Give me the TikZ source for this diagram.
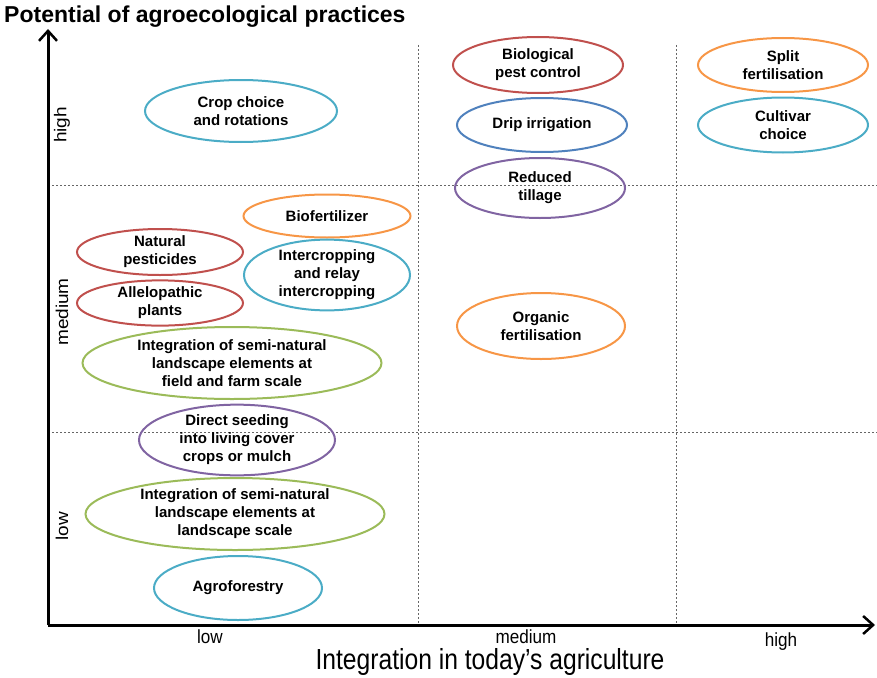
\documentclass[tikz,border=0pt]{standalone}
\usepackage{fontspec}
\setmainfont{Liberation Sans}
\usetikzlibrary{shapes.geometric,arrows.meta}

\definecolor{cRed}{RGB}{192,80,77}
\definecolor{cCyan}{RGB}{75,172,198}
\definecolor{cOrange}{RGB}{247,150,70}
\definecolor{cGreen}{RGB}{155,187,89}
\definecolor{cPurple}{RGB}{128,100,162}
\definecolor{cBlue}{RGB}{79,129,189}

\tikzset{
  practice/.style={ellipse, draw=#1, line width=2pt, inner sep=0pt, align=center,
    font=\fontsize{15}{18}\selectfont\bfseries},
  axisline/.style={line width=3pt, -{Straight Barb[length=10pt,width=18pt,line width=2.5pt]}},
  split/.style={gray!80!black, line width=0.8pt, dash pattern=on 2pt off 2pt},
  level/.style={font=\fontsize{19}{19}\selectfont, inner sep=0pt, xscale=0.9, transform shape}
}

\begin{document}
\begin{tikzpicture}[x=1pt, y=-1pt]
\useasboundingbox (0,0) rectangle (877,677);

% Splits
\draw[split] (48,185) -- (877,185);
\draw[split] (48,432) -- (877,432);
\draw[split] (418,45) -- (418,625);
\draw[split] (676,45) -- (676,625);

% Axes
\coordinate (origin) at (48,625);
\coordinate (ytip) at (48,29);
\coordinate (xtip) at (875,625);
\draw[axisline] (origin) -- (ytip);
\draw[axisline] (origin) -- (xtip);

% Axis titles
\node[font=\fontsize{23}{23}\selectfont\bfseries, anchor=west, inner sep=0pt] (ytitle) at (4,17) {Potential of agroecological practices};
\node[font=\fontsize{29}{29}\selectfont, inner sep=0pt, xscale=0.85, transform shape] (xtitle) at (490,662) {Integration in today’s agriculture};

% Levels
\node[level] (xlow) at (210,637) {low};
\node[level] (xmed) at (526,637) {medium};
\node[level] (xhigh) at (781,642) {high};
\node[level, rotate=90] (ylow) at (62,526) {low};
\node[level, rotate=90] (ymed) at (62,312) {medium};
\node[level, rotate=90] (yhigh) at (62,125) {high};

% Practices, low integration
\node[practice=cCyan, minimum width=192pt, minimum height=62pt] (crop) at (241,111) {Crop choice\\and rotations};
\node[practice=cOrange, minimum width=167pt, minimum height=43pt] (biofert) at (327,216) {Biofertilizer};
\node[practice=cRed, minimum width=166pt, minimum height=46pt] (natpest) at (160,252) {Natural\\pesticides};
\node[practice=cCyan, minimum width=166pt, minimum height=60pt] (intercrop) at (327,275) {Intercropping\\and relay\\intercropping};
\node[practice=cRed, minimum width=166pt, minimum height=44pt] (allelo) at (160,303) {Allelopathic\\plants};
\node[practice=cGreen, minimum width=299pt, minimum height=72pt] (fieldscale) at (232,363) {Integration of semi-natural\\landscape elements at\\field and farm scale};
\node[practice=cPurple, minimum width=196pt, minimum height=64pt] (seeding) at (237,440) {Direct seeding\\into living cover\\crops or mulch};
\node[practice=cGreen, minimum width=299pt, minimum height=72pt] (landscale) at (235,514) {Integration of semi-natural\\landscape elements at\\landscape scale};
\node[practice=cCyan, minimum width=168pt, minimum height=64pt] (agrofor) at (238,588) {Agroforestry};

% Practices, medium integration
\node[practice=cRed, minimum width=170pt, minimum height=56pt] (biopest) at (538,65) {Biological\\pest control};
\node[practice=cBlue, minimum width=170pt, minimum height=54pt] (drip) at (542,125) {Drip irrigation};
\node[practice=cPurple, minimum width=170pt, minimum height=60pt] (tillage) at (540,188) {Reduced\\tillage};
\node[practice=cOrange, minimum width=168pt, minimum height=66pt] (organic) at (541,326) {Organic\\fertilisation};

% Practices, high integration
\node[practice=cOrange, minimum width=170pt, minimum height=54pt] (splitfert) at (783,65) {Split\\fertilisation};
\node[practice=cCyan, minimum width=170pt, minimum height=55pt] (cultivar) at (783,125) {Cultivar\\choice};
\end{tikzpicture}
\end{document}
